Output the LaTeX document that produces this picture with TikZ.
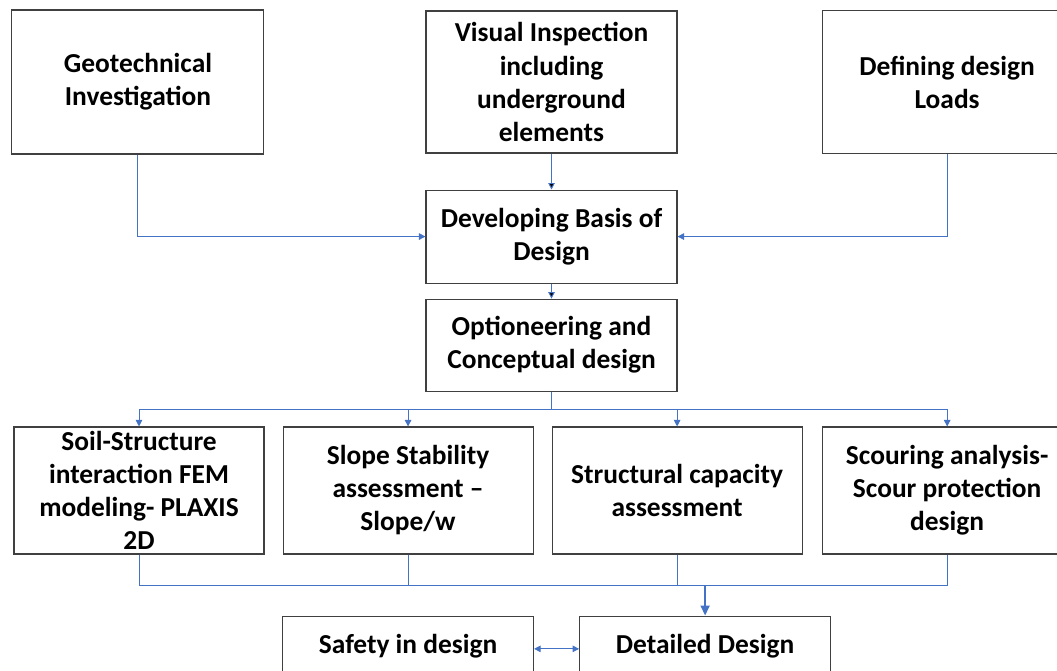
\documentclass[tikz,border=0pt]{standalone}
\usepackage{fontspec}
\setmainfont{Carlito}
\usepackage{tikz}
\usetikzlibrary{positioning,calc}
\usetikzlibrary{arrows.meta}
\definecolor{accent}{RGB}{68,114,196}
\definecolor{frame}{RGB}{64,64,64}

\begin{document}
\begin{tikzpicture}[
  box/.style = {
    draw = frame,
    line width = 0.6pt,
    rectangle,
    fill = white,
    align = center,
    inner sep = 0pt,
    font = \fontsize{15.6}{18.8}\selectfont\bfseries,
  },
  stage/.style = {box, minimum width = 5.0cm, minimum height = 2.54cm},
  final/.style = {box, minimum width = 5.02cm, text height = 0.74cm, text depth = 0.8cm},
  link/.style = {draw = accent, line width = 0.55pt},
  >={Triangle[length=1.3mm,width=1.3mm]},
]
  \useasboundingbox (0,0) rectangle (21.14,13.4);

  % inputs
  \node[box,minimum width=5.02cm,minimum height=2.84cm] (visual) at (11.03,11.76)
    {Visual Inspection\\including\\underground\\elements};
  \node[box,minimum width=5.04cm,minimum height=2.88cm] (geo) [left=3.22cm of visual]
    {Geotechnical\\Investigation};
  \node[box,minimum width=5.0cm,minimum height=2.86cm] (loads) [right=2.88cm of visual]
    {Defining design\\Loads};

  \node[box,minimum width=5.02cm,minimum height=1.86cm] (basis) [below=0.72cm of visual]
    {Developing Basis of\\Design};
  \node[box,minimum width=5.02cm,minimum height=1.84cm] (option) [below=0.3cm of basis]
    {Optioneering and\\Conceptual design};

  \path[link,->] (visual) edge (basis);
  \draw[link,->] (geo) |- (basis);
  \draw[link,->] (loads) |- (basis);
  \path[link,->] (basis) edge (option);

  % analyses
  \node[stage] (soil) at (2.78,3.59)
    {Soil-Structure\\interaction FEM\\modeling- PLAXIS\\2D};
  \node[stage] (slope) [right=0.36cm of soil]
    {Slope Stability\\assessment --\\Slope/w};
  \node[stage] (struct) [right=0.36cm of slope]
    {Structural capacity\\assessment};
  \node[stage] (scour) [right=0.38cm of struct]
    {Scouring analysis-\\Scour protection\\design};

  \coordinate (split) at ($(option.south)!0.5!(struct.north)$);
  \draw[link] (option) -- (option |- split);
  \foreach \n in {soil,slope,struct,scour}
    \draw[link,->] (option |- split) -| (\n);

  % design
  \node[final] (safety) [below=1.22cm of slope] {Safety in design};
  \node[final] (detail) [right=0.9cm of safety] {Detailed Design};

  \coordinate (join) at ($(struct.south)!0.5!(detail.north)$);
  \draw[link] (soil) |- (scour |- join) -- (scour);
  \draw[link] (slope) -- (slope |- join);
  \draw[link] (struct) -- (struct |- join);
  \draw[link,line width=1pt,-{Triangle[length=2mm,width=1.8mm]}] (detail |- join) -- (detail);
  \draw[link,<->] (safety.mid east) -- (detail.mid west);
\end{tikzpicture}
\end{document}
